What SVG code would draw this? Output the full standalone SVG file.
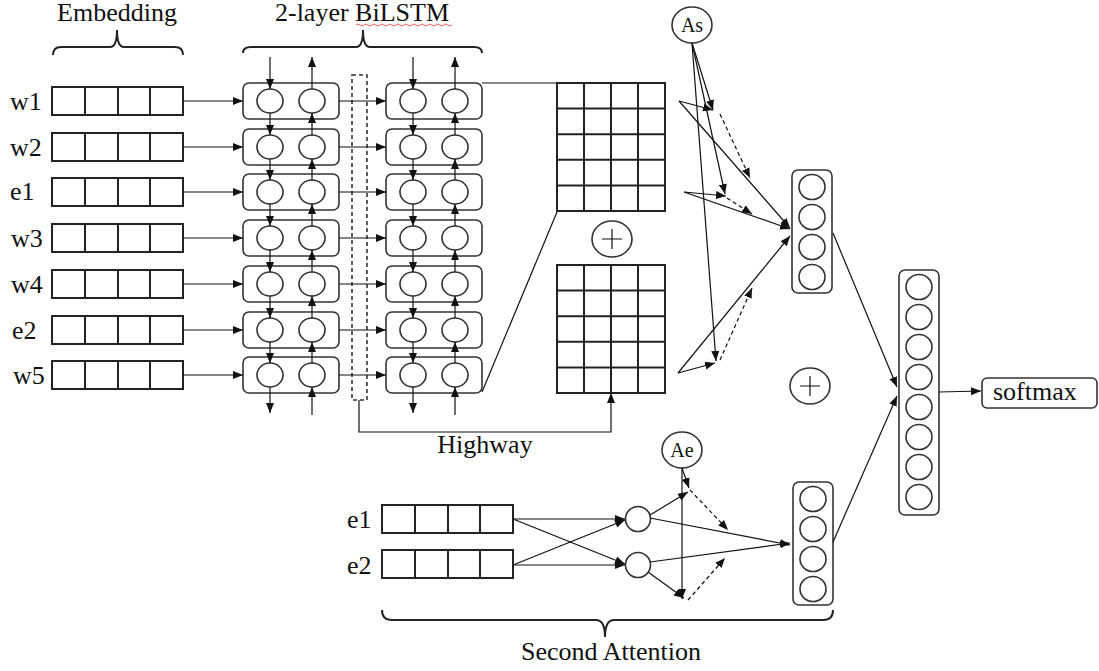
<svg xmlns="http://www.w3.org/2000/svg" width="1099" height="671" viewBox="0 0 1099 671">
<style>
.bx{fill:none;stroke:#333;stroke-width:1.6}
.gr{fill:none;stroke:#222;stroke-width:2}
.ln{fill:none;stroke:#111;stroke-width:1.2}
.ar{marker-end:url(#ah)}
.ds{stroke-dasharray:4 3}
.br{fill:none;stroke:#222;stroke-width:2}
.t{font-family:"Liberation Serif","Times New Roman",serif;font-size:26px;fill:#111}
.s{font-family:"Liberation Serif","Times New Roman",serif;font-size:20px;fill:#111}
</style>
<defs>
<marker id="ah" viewBox="0 0 10 8" refX="10" refY="4" markerWidth="10" markerHeight="9" orient="auto" markerUnits="userSpaceOnUse"><path d="M0,0L10,4L0,8z" fill="#111"/></marker>
<g id="emb" class="gr"><rect x="0" y="0" width="131" height="28"/><path d="M33,0v28M66,0v28M98,0v28"/></g>
<g id="cell" class="bx"><rect x="0" y="0" width="96" height="36" rx="6"/><ellipse cx="27" cy="18" rx="13" ry="12"/><ellipse cx="69" cy="18" rx="13" ry="12"/></g>
<g id="grid" class="gr"><rect x="0" y="0" width="108" height="128"/><path d="M27,0v128M54,0v128M81,0v128M0,25.6h108M0,51.2h108M0,76.8h108M0,102.4h108"/></g>
<g id="plus"><ellipse cx="0" cy="0" rx="20" ry="18" class="bx"/><path d="M-10,0h20M0,-10v20" class="ln"/></g>
</defs>

<g id="headers">
<text class="t" x="117" y="21" text-anchor="middle">Embedding</text>
<path class="br" d="M53,55Q53,47 61,47L110,47Q117,47 117,30Q117,47 124,47L175,47Q183,47 183,55"/>
<text class="t" x="362" y="21" text-anchor="middle">2-layer BiLSTM</text>
<path d="M356,25q2,-2 4,0t4,0t4,0t4,0t4,0t4,0t4,0t4,0t4,0t4,0t4,0t4,0t4,0t4,0t4,0t4,0t4,0t4,0t4,0t4,0t4,0t4,0t4,0t4,0" fill="none" stroke="#e33" stroke-width="0.8"/>
<path class="br" d="M243,53Q243,47 251,47L356,47Q363,47 363,30Q363,47 370,47L474,47Q482,47 482,53"/>
</g>

<g id="embedding">
<text class="t" x="10" y="110">w1</text><use href="#emb" x="52" y="87"/>
<text class="t" x="10" y="156">w2</text><use href="#emb" x="52" y="133"/>
<text class="t" x="10" y="200">e1</text><use href="#emb" x="52" y="178"/>
<text class="t" x="11" y="247">w3</text><use href="#emb" x="52" y="224"/>
<text class="t" x="11" y="293">w4</text><use href="#emb" x="52" y="270"/>
<text class="t" x="12" y="339">e2</text><use href="#emb" x="52" y="316"/>
<text class="t" x="13" y="384">w5</text><use href="#emb" x="52" y="361"/>
</g>

<g id="bilstm">
<use href="#cell" x="243" y="83"/><use href="#cell" x="386" y="83"/>
<use href="#cell" x="243" y="129"/><use href="#cell" x="386" y="129"/>
<use href="#cell" x="243" y="174"/><use href="#cell" x="386" y="174"/>
<use href="#cell" x="243" y="220"/><use href="#cell" x="386" y="220"/>
<use href="#cell" x="243" y="266"/><use href="#cell" x="386" y="266"/>
<use href="#cell" x="243" y="312"/><use href="#cell" x="386" y="312"/>
<use href="#cell" x="243" y="357"/><use href="#cell" x="386" y="357"/>
<rect x="352" y="75" width="15" height="325" class="bx ds" stroke-width="1.2"/>
</g>

<g id="matrices">
<use href="#grid" x="557" y="83"/>
<use href="#grid" x="557" y="265"/>
<use href="#plus" x="612" y="239"/>
<use href="#plus" x="810" y="386"/>
</g>

<g id="attention-nodes">
<ellipse cx="692" cy="25" rx="20" ry="18" class="bx"/><text class="s" x="692" y="32" text-anchor="middle">As</text>
<ellipse cx="682" cy="450" rx="20" ry="18" class="bx"/><text class="s" x="682" y="457" text-anchor="middle">Ae</text>
<use href="#emb" x="382" y="505"/><text class="t" x="347" y="528">e1</text>
<use href="#emb" x="382" y="550"/><text class="t" x="347" y="574">e2</text>
<circle cx="638" cy="519" r="12.5" class="bx"/>
<circle cx="638" cy="565" r="12.5" class="bx"/>
</g>

<g id="vectors" class="bx">
<rect x="792" y="170" width="40" height="123" rx="6"/>
<ellipse cx="812" cy="187" rx="13" ry="12.5"/><ellipse cx="812" cy="217" rx="13" ry="12.5"/><ellipse cx="812" cy="247" rx="13" ry="12.5"/><ellipse cx="812" cy="277" rx="13" ry="12.5"/>
<rect x="793" y="482" width="40" height="123" rx="6"/>
<ellipse cx="813" cy="499" rx="13" ry="12.5"/><ellipse cx="813" cy="529" rx="13" ry="12.5"/><ellipse cx="813" cy="559" rx="13" ry="12.5"/><ellipse cx="813" cy="589" rx="13" ry="12.5"/>
<rect x="899" y="270" width="40" height="245" rx="6"/>
<ellipse cx="919" cy="287" rx="13" ry="12.5"/><ellipse cx="919" cy="317" rx="13" ry="12.5"/><ellipse cx="919" cy="347" rx="13" ry="12.5"/><ellipse cx="919" cy="377" rx="13" ry="12.5"/><ellipse cx="919" cy="407" rx="13" ry="12.5"/><ellipse cx="919" cy="437" rx="13" ry="12.5"/><ellipse cx="919" cy="467" rx="13" ry="12.5"/><ellipse cx="919" cy="497" rx="13" ry="12.5"/>
</g>

<g id="softmax">
<rect x="982" y="378" width="115" height="30" rx="5" class="bx"/>
<text class="t" x="993" y="400">softmax</text>
</g>

<g id="labels">
<text class="t" x="485" y="453" text-anchor="middle">Highway</text>
<path class="br" d="M382,610Q382,620 392,620L596,620Q605,620 605,637Q605,620 614,620L823,620Q833,620 833,610"/>
<text class="t" x="611" y="660" text-anchor="middle">Second Attention</text>
</g>

<g id="connectors" class="ln">
<line x1="183" y1="101" x2="243" y2="101" class="ar"/>
<line x1="183" y1="147" x2="243" y2="147" class="ar"/>
<line x1="183" y1="192" x2="243" y2="192" class="ar"/>
<line x1="183" y1="238" x2="243" y2="238" class="ar"/>
<line x1="183" y1="284" x2="243" y2="284" class="ar"/>
<line x1="183" y1="330" x2="243" y2="330" class="ar"/>
<line x1="183" y1="375" x2="243" y2="375" class="ar"/>
<line x1="339" y1="101" x2="386" y2="101" class="ar"/>
<line x1="339" y1="147" x2="386" y2="147" class="ar"/>
<line x1="339" y1="192" x2="386" y2="192" class="ar"/>
<line x1="339" y1="238" x2="386" y2="238" class="ar"/>
<line x1="339" y1="284" x2="386" y2="284" class="ar"/>
<line x1="339" y1="330" x2="386" y2="330" class="ar"/>
<line x1="339" y1="375" x2="386" y2="375" class="ar"/>
<line x1="270" y1="57" x2="270" y2="89" class="ar"/>
<line x1="270" y1="113" x2="270" y2="135" class="ar"/>
<line x1="270" y1="159" x2="270" y2="180" class="ar"/>
<line x1="270" y1="204" x2="270" y2="226" class="ar"/>
<line x1="270" y1="250" x2="270" y2="272" class="ar"/>
<line x1="270" y1="296" x2="270" y2="318" class="ar"/>
<line x1="270" y1="342" x2="270" y2="363" class="ar"/>
<line x1="270" y1="387" x2="270" y2="413" class="ar"/>
<line x1="413" y1="57" x2="413" y2="89" class="ar"/>
<line x1="413" y1="113" x2="413" y2="135" class="ar"/>
<line x1="413" y1="159" x2="413" y2="180" class="ar"/>
<line x1="413" y1="204" x2="413" y2="226" class="ar"/>
<line x1="413" y1="250" x2="413" y2="272" class="ar"/>
<line x1="413" y1="296" x2="413" y2="318" class="ar"/>
<line x1="413" y1="342" x2="413" y2="363" class="ar"/>
<line x1="413" y1="387" x2="413" y2="413" class="ar"/>
<line x1="312" y1="89" x2="312" y2="57" class="ar"/>
<line x1="312" y1="135" x2="312" y2="113" class="ar"/>
<line x1="312" y1="180" x2="312" y2="159" class="ar"/>
<line x1="312" y1="226" x2="312" y2="204" class="ar"/>
<line x1="312" y1="272" x2="312" y2="250" class="ar"/>
<line x1="312" y1="318" x2="312" y2="296" class="ar"/>
<line x1="312" y1="363" x2="312" y2="342" class="ar"/>
<line x1="312" y1="415" x2="312" y2="387" class="ar"/>
<line x1="455" y1="89" x2="455" y2="57" class="ar"/>
<line x1="455" y1="135" x2="455" y2="113" class="ar"/>
<line x1="455" y1="180" x2="455" y2="159" class="ar"/>
<line x1="455" y1="226" x2="455" y2="204" class="ar"/>
<line x1="455" y1="272" x2="455" y2="250" class="ar"/>
<line x1="455" y1="318" x2="455" y2="296" class="ar"/>
<line x1="455" y1="363" x2="455" y2="342" class="ar"/>
<line x1="455" y1="415" x2="455" y2="387" class="ar"/>
<path d="M482,83L557,83"/>
<path d="M482,392L557,212"/>
<path d="M359,400V432H611V393" class="ar"/>
<line x1="692" y1="43" x2="713" y2="110" class="ar"/>
<line x1="692" y1="43" x2="725" y2="194" class="ar"/>
<line x1="692" y1="43" x2="716" y2="361" class="ar"/>
<line x1="679" y1="101" x2="713" y2="110" class="ar"/>
<line x1="679" y1="101" x2="790" y2="228" class="ar"/>
<line x1="684" y1="192" x2="726" y2="196" class="ar"/>
<line x1="684" y1="192" x2="790" y2="229" class="ar"/>
<line x1="678" y1="373" x2="715" y2="363" class="ar"/>
<line x1="678" y1="373" x2="790" y2="236" class="ar"/>
<line x1="720" y1="114" x2="750" y2="178" class="ar ds"/>
<line x1="727" y1="198" x2="752" y2="214" class="ar ds"/>
<line x1="720" y1="360" x2="752" y2="288" class="ar ds"/>
<line x1="833" y1="233" x2="897" y2="387" class="ar"/>
<line x1="833" y1="542" x2="897" y2="396" class="ar"/>
<line x1="939" y1="392" x2="981" y2="391" class="ar"/>
<line x1="513" y1="519" x2="625" y2="519" class="ar"/>
<line x1="513" y1="519" x2="625" y2="564" class="ar"/>
<line x1="513" y1="565" x2="625" y2="520" class="ar"/>
<line x1="513" y1="565" x2="625" y2="565" class="ar"/>
<line x1="650" y1="515" x2="688" y2="492" class="ar"/>
<line x1="650" y1="518" x2="790" y2="545" class="ar"/>
<line x1="650" y1="562" x2="790" y2="543" class="ar"/>
<line x1="648" y1="572" x2="684" y2="598" class="ar"/>
<line x1="682" y1="468" x2="682" y2="599" class="ar"/>
<line x1="682" y1="468" x2="689" y2="488" class="ar"/>
<line x1="690" y1="490" x2="728" y2="530" class="ar ds"/>
<line x1="688" y1="600" x2="725" y2="558" class="ar ds"/>
</g>
</svg>
